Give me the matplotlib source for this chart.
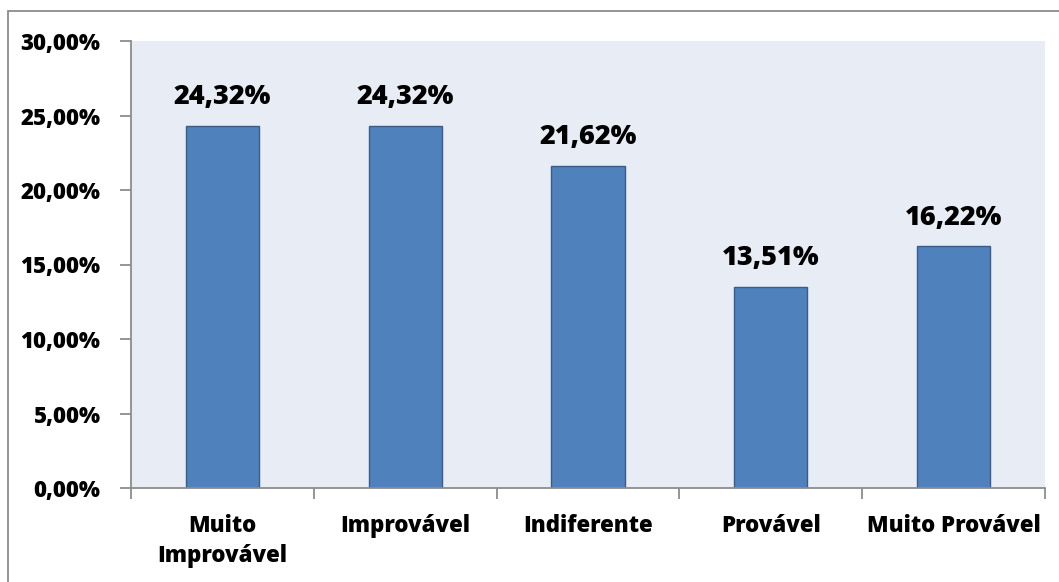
import matplotlib.pyplot as plt
from matplotlib.patches import Rectangle

categories = ["Muito\nImprovável", "Improvável", "Indiferente", "Provável", "Muito Provável"]
values = [24.32, 24.32, 21.62, 13.51, 16.22]
yticks = [0, 5, 10, 15, 20, 25, 30]

plt.rcParams["font.family"] = ["Open Sans", "DejaVu Sans"]
plt.rcParams["font.weight"] = "bold"


def pct(v):
    return f"{v:.2f}%".replace(".", ",")


W, H = 1059, 582
fig = plt.figure(figsize=(W / 100, H / 100), dpi=100)
ax = fig.add_axes([131 / W, 1 - 488 / H, (1045 - 131) / W, (488 - 41) / H])

# outer chart frame (cut off at right and bottom)
fig.patches.append(Rectangle((8 / W, -0.1), 1.2, 1 - 11 / H + 0.1, transform=fig.transFigure,
                             fill=False, edgecolor="#8c8c8c", linewidth=1.3))

x = list(range(len(categories)))
ax.set_facecolor("#E8ECF4")
ax.bar(x, values, width=0.4, color="#4F81BD", edgecolor="#385D8A", linewidth=1)

for xi, v in zip(x, values):
    ax.text(xi, v + 1.45, pct(v), ha="center", va="baseline", fontsize=19.5, fontweight="heavy")

ax.set_xlim(-0.5, len(categories) - 0.5)
ax.set_ylim(0, 30)
ax.set_yticks(yticks)
ax.set_yticklabels([pct(t) for t in yticks], fontsize=16, fontweight="heavy")

ax.set_xticks([i - 0.5 for i in range(len(categories) + 1)])
ax.set_xticklabels([])
ax.set_xticks(x, minor=True)
ax.set_xticklabels(categories, minor=True, fontsize=16, fontweight="heavy", linespacing=1.3)
ax.tick_params(axis="x", which="minor", length=0, pad=19)
ax.tick_params(axis="x", which="major", length=8, color="#8c8c8c", width=1.3)
ax.tick_params(axis="y", length=8, color="#8c8c8c", width=1.3, pad=14)

for side in ["top", "right"]:
    ax.spines[side].set_visible(False)
for side in ["left", "bottom"]:
    ax.spines[side].set_color("#8c8c8c")
    ax.spines[side].set_linewidth(1.3)

fig.savefig("out.png", dpi=100)
